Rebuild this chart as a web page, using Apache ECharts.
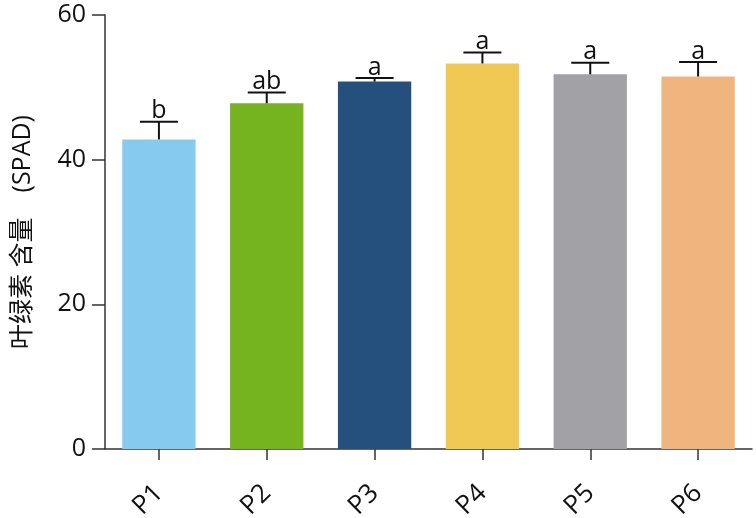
<!DOCTYPE html>
<html>
<head>
<meta charset="utf-8">
<script src="https://cdn.jsdelivr.net/npm/echarts@6/dist/echarts.min.js"></script>
<style>html,body{margin:0;padding:0;background:#fff}#c{width:756px;height:518px}</style>
</head>
<body>
<div id="c"></div>
<script>
const categories = ['P1', 'P2', 'P3', 'P4', 'P5', 'P6'];
const means = [42.8, 47.8, 50.8, 53.3, 51.8, 51.5];
const errors = [2.45, 1.5, 0.5, 1.5, 1.6, 2.0];
const letters = ['b', 'ab', 'a', 'a', 'a', 'a'];
const colors = ['#86CBEF', '#76B41F', '#25507E', '#F0C955', '#A2A1A6', '#F0B57E'];
const yTicks = [0, 20, 40, 60];

const chart = echarts.init(document.getElementById('c'));
const font = '"Open Sans", "Noto Sans CJK SC", sans-serif';
chart.setOption({
  animation: false,
  grid: { left: 105, right: 4, top: 15, bottom: 69, containLabel: false, outerBoundsMode: 'none' },
  xAxis: {
    type: 'category',
    data: categories,
    axisLine: { lineStyle: { color: '#333', width: 1.5 } },
    axisTick: { show: true, alignWithLabel: true, length: 11, lineStyle: { color: '#333', width: 1.5 } },
    axisLabel: { rotate: 45, margin: 40, fontSize: 26, color: '#111', fontFamily: font }
  },
  yAxis: {
    type: 'value',
    min: yTicks[0], max: yTicks[yTicks.length - 1], interval: 20,
    name: '叶绿素 含量　(SPAD)',
    nameLocation: 'middle',
    nameGap: 70,
    nameTextStyle: { fontSize: 25, color: '#111', fontFamily: font },
    axisLine: { show: true, lineStyle: { color: '#333', width: 1.5 } },
    axisTick: { show: true, length: 13, lineStyle: { color: '#333', width: 1.5 } },
    axisLabel: { fontSize: 25, color: '#111', margin: 19, fontFamily: font },
    splitLine: { show: false }
  },
  series: [
    {
      type: 'bar',
      barCategoryGap: '32%',
      data: means.map((v, i) => ({ value: v, itemStyle: { color: colors[i] } }))
    },
    {
      type: 'custom',
      data: means.map((v, i) => [i, v, errors[i], letters[i]]),
      renderItem: function (params, api) {
        const i = api.value(0);
        const top = api.coord([i, api.value(1) + api.value(2)]);
        const base = api.coord([i, api.value(1)]);
        const hw = 19;
        return {
          type: 'group',
          children: [
            { type: 'line', shape: { x1: top[0], y1: base[1], x2: top[0], y2: top[1] }, style: { stroke: '#111', lineWidth: 2 } },
            { type: 'line', shape: { x1: top[0] - hw, y1: top[1], x2: top[0] + hw, y2: top[1] }, style: { stroke: '#111', lineWidth: 2 } },
            { type: 'text', x: top[0], y: top[1] + 2, style: { text: letters[params.dataIndex], fontSize: 25, fill: '#111', align: 'center', verticalAlign: 'bottom', fontFamily: font } }
          ]
        };
      },
      z: 5
    }
  ]
});
</script>
</body>
</html>
